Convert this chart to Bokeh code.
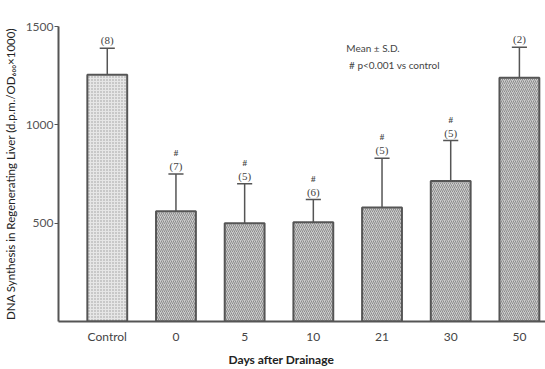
from bokeh.plotting import figure
from bokeh.models import FixedTicker, Label, ColumnDataSource, Title
from bokeh.embed import file_html
from bokeh.resources import INLINE

categories = ["Control", "0", "5", "10", "21", "30", "50"]
means = [1255, 560, 500, 505, 580, 715, 1240]
sds = [135, 190, 200, 115, 250, 205, 155]
ns = [8, 7, 5, 6, 5, 5, 2]
significant = [False, True, True, True, True, True, False]
y_ticks = [500, 1000, 1500]

FONT = "Lato"
x = list(range(len(categories)))
tops = [m + s for m, s in zip(means, sds)]

p = figure(width=545, height=369, output_backend="svg", toolbar_location=None,
           x_range=(-0.71, 6.38), y_range=(0, 1500),
           min_border_left=55, min_border_right=0, min_border_top=26, min_border_bottom=10)
p.outline_line_color = None
p.xgrid.visible = False
p.ygrid.visible = False

# bars
ctrl = ColumnDataSource(dict(x=x[:1], top=means[:1]))
rest = ColumnDataSource(dict(x=x[1:], top=means[1:]))
p.vbar(x="x", top="top", width=0.58, source=ctrl, fill_color="#e6e6e6",
       hatch_pattern="dot", hatch_color="#9a9a9a", hatch_scale=3, hatch_weight=1,
       line_color="#555555", line_width=2)
p.vbar(x="x", top="top", width=0.58, source=rest, fill_color="#cccccc",
       hatch_pattern="right_diagonal_line", hatch_color="#8c8c8c", hatch_scale=4, hatch_weight=1,
       line_color="#555555", line_width=2)

# error bars (upper only)
p.segment(x0=x, y0=means, x1=x, y1=tops, line_color="#555555", line_width=1.5)
p.segment(x0=[v - 0.11 for v in x], y0=tops, x1=[v + 0.11 for v in x], y1=tops,
          line_color="#555555", line_width=1.5)

# n labels and significance marks
p.text(x=x, y=tops, text=[f"({n})" for n in ns], text_align="center", text_baseline="middle",
       y_offset=-8, text_font_size="11px", text_color="#444444", text_font=FONT)
sx = [xi for xi, s in zip(x, significant) if s]
sy = [t for t, s in zip(tops, significant) if s]
p.text(x=sx, y=sy, text=["#"] * len(sx), text_align="center", text_baseline="middle",
       y_offset=-21, text_font_size="9px", text_font_style="bold", text_color="#444444",
       text_font=FONT)

# axes
p.xaxis.ticker = FixedTicker(ticks=x)
p.xaxis.major_label_overrides = {i: c for i, c in enumerate(categories)}
p.xaxis.major_tick_line_color = None
p.xaxis.minor_tick_line_color = None
p.xaxis.axis_line_color = "#555555"
p.xaxis.axis_line_width = 2
p.xaxis.major_label_text_font = FONT
p.xaxis.major_label_text_font_size = "12px"
p.xaxis.major_label_text_color = "#444444"
p.xaxis.major_label_standoff = 1

p.yaxis.ticker = FixedTicker(ticks=y_ticks)
p.yaxis.minor_tick_line_color = None
p.yaxis.major_tick_in = 0
p.yaxis.major_tick_out = 4
p.yaxis.major_tick_line_color = "#555555"
p.yaxis.axis_line_color = "#555555"
p.yaxis.axis_line_width = 2
p.yaxis.major_label_text_font = FONT
p.yaxis.major_label_text_font_size = "12px"
p.yaxis.major_label_text_color = "#555555"
p.yaxis.major_label_standoff = 1
p.yaxis.axis_label = "DNA Synthesis in Regenerating Liver (d.p.m./OD\u2086\u2080\u2080\u00d71000)"
p.yaxis.axis_label_text_font = FONT
p.yaxis.axis_label_text_font_size = "11.5px"
p.yaxis.axis_label_text_font_style = "normal"
p.yaxis.axis_label_text_color = "#222222"
p.yaxis.axis_label_standoff = 6

# x-axis title
p.add_layout(Title(text="Days after Drainage", align="left", offset=170, standoff=6,
                   text_font=FONT, text_font_size="12px", text_font_style="bold",
                   text_color="#222222"), "below")

# legend notes
p.add_layout(Label(x=3.48, y=1390, text="Mean \u00b1 S.D.", text_align="left",
                   text_baseline="middle", text_font=FONT, text_font_size="10px",
                   text_color="#444444"))
p.add_layout(Label(x=3.52, y=1305, text="#  p<0.001   vs control", text_align="left",
                   text_baseline="middle", text_font=FONT, text_font_size="10px",
                   text_color="#444444"))

open("out.html", "w").write(file_html(p, INLINE))
